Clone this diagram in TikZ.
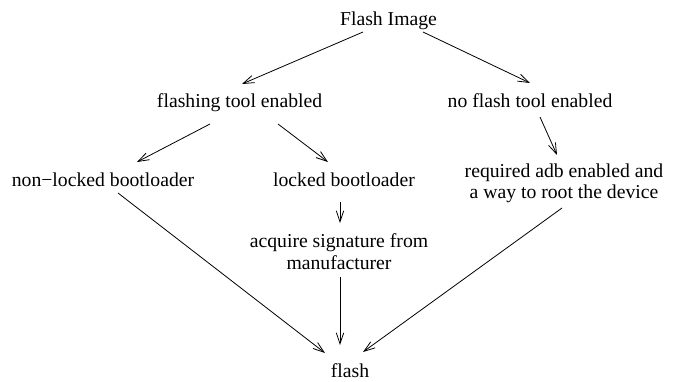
\documentclass[tikz,border=0pt]{standalone}
\usepackage{fontspec}
\setmainfont{Liberation Serif}
\usetikzlibrary{arrows.meta}
\begin{document}
\begin{tikzpicture}[x=1pt,y=-1pt,
  lbl/.style={inner sep=0pt, font=\fontsize{19.7}{21.5}\selectfont},
  arr/.style={-{Straight Barb[length=11pt,width=7.5pt]}, line width=0.8pt}]
\fill[white] (0,0) rectangle (683,381);
\useasboundingbox (0,0) rectangle (683,381);
\node[lbl,anchor=base] (fi) at (388.5,25) {Flash Image};
\node[lbl,anchor=base] (fte) at (239.6,107) {flashing tool enabled};
\node[lbl,anchor=base] (nft) at (530,107) {no flash tool enabled};
\node[lbl,anchor=base] (nlb) at (103,186) {non−locked bootloader};
\node[lbl,anchor=base] (lb) at (344,186) {locked bootloader};
\node[lbl,anchor=north,align=center] (req) at (564,163.5) {required adb enabled and\\a way to root the device};
\node[lbl,anchor=north,align=center] (acq) at (339,233.5) {acquire signature from\\manufacturer};
\node[lbl,anchor=base] (fl) at (350,377) {flash};
\draw[arr] ([shift={(-25.5,7)}]fi.base) -- ([shift={(2.4,-23)}]fte.base);
\draw[arr] ([shift={(34.5,7)}]fi.base) -- ([shift={(0,-24)}]nft.base);
\draw[arr] ([shift={(-29.6,17)}]fte.base) -- ([shift={(34,-24)}]nlb.base);
\draw[arr] ([shift={(38.4,17)}]fte.base) -- ([shift={(-16,-24)}]lb.base);
\draw[arr] ([shift={(-4,16)}]lb.base) -- ([shift={(1,-10.5)}]acq.north);
\draw[arr] ([shift={(10,10)}]nft.base) -- ([shift={(-7,-8.5)}]req.north);
\draw[arr] ([shift={(15,7)}]nlb.base) -- ([shift={(-25,-24)}]fl.base);
\draw[arr] ([shift={(1,43.5)}]acq.north) -- ([shift={(-10,-32)}]fl.base);
\draw[arr] ([shift={(-2,44.5)}]req.north) -- ([shift={(13,-25)}]fl.base);
\end{tikzpicture}
\end{document}
